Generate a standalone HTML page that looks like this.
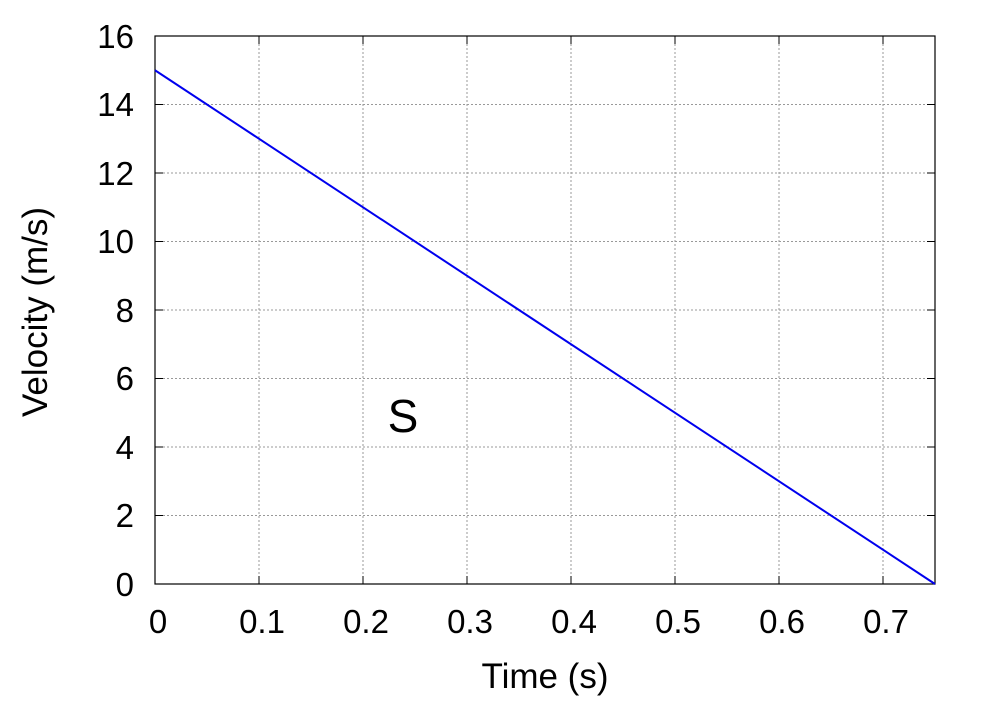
<!DOCTYPE html>
<html><head><style>body{margin:0;background:#fff}</style></head><body>
<svg width="1000" height="700" xmlns="http://www.w3.org/2000/svg" font-family="Liberation Sans, sans-serif">
<rect width="1000" height="700" fill="#fff"/>
<g stroke="#999" stroke-width="1" stroke-dasharray="2,2">
<line x1="259" y1="36" x2="259" y2="584"/><line x1="363" y1="36" x2="363" y2="584"/>
<line x1="467" y1="36" x2="467" y2="584"/><line x1="571" y1="36" x2="571" y2="584"/>
<line x1="675" y1="36" x2="675" y2="584"/><line x1="779" y1="36" x2="779" y2="584"/>
<line x1="883" y1="36" x2="883" y2="584"/>
<line x1="155" y1="515.5" x2="935" y2="515.5"/><line x1="155" y1="447" x2="935" y2="447"/>
<line x1="155" y1="378.5" x2="935" y2="378.5"/><line x1="155" y1="310" x2="935" y2="310"/>
<line x1="155" y1="241.5" x2="935" y2="241.5"/><line x1="155" y1="173" x2="935" y2="173"/>
<line x1="155" y1="104.5" x2="935" y2="104.5"/>
</g>
<g stroke="#000" stroke-width="1">
<line x1="259" y1="584" x2="259" y2="576"/><line x1="363" y1="584" x2="363" y2="576"/>
<line x1="467" y1="584" x2="467" y2="576"/><line x1="571" y1="584" x2="571" y2="576"/>
<line x1="675" y1="584" x2="675" y2="576"/><line x1="779" y1="584" x2="779" y2="576"/>
<line x1="883" y1="584" x2="883" y2="576"/>
<line x1="259" y1="36" x2="259" y2="44"/><line x1="363" y1="36" x2="363" y2="44"/>
<line x1="467" y1="36" x2="467" y2="44"/><line x1="571" y1="36" x2="571" y2="44"/>
<line x1="675" y1="36" x2="675" y2="44"/><line x1="779" y1="36" x2="779" y2="44"/>
<line x1="883" y1="36" x2="883" y2="44"/>
<line x1="155" y1="515.5" x2="163" y2="515.5"/><line x1="155" y1="447" x2="163" y2="447"/>
<line x1="155" y1="378.5" x2="163" y2="378.5"/><line x1="155" y1="310" x2="163" y2="310"/>
<line x1="155" y1="241.5" x2="163" y2="241.5"/><line x1="155" y1="173" x2="163" y2="173"/>
<line x1="155" y1="104.5" x2="163" y2="104.5"/>
<line x1="935" y1="515.5" x2="927" y2="515.5"/><line x1="935" y1="447" x2="927" y2="447"/>
<line x1="935" y1="378.5" x2="927" y2="378.5"/><line x1="935" y1="310" x2="927" y2="310"/>
<line x1="935" y1="241.5" x2="927" y2="241.5"/><line x1="935" y1="173" x2="927" y2="173"/>
<line x1="935" y1="104.5" x2="927" y2="104.5"/>
</g>
<rect x="155" y="36" width="780" height="548" fill="none" stroke="#000" stroke-width="1.2"/>
<line x1="155" y1="70.25" x2="935" y2="584" stroke="#0000ee" stroke-width="2"/>
<g font-size="33" text-anchor="end">
<text x="134" y="596">0</text><text x="134" y="527">2</text><text x="134" y="459">4</text>
<text x="134" y="390">6</text><text x="134" y="322">8</text><text x="134" y="253">10</text>
<text x="134" y="185">12</text><text x="134" y="116">14</text><text x="134" y="48">16</text>
</g>
<g font-size="33" text-anchor="middle">
<text x="158" y="633">0</text><text x="262" y="633">0.1</text><text x="366" y="633">0.2</text>
<text x="470" y="633">0.3</text><text x="574" y="633">0.4</text><text x="678" y="633">0.5</text>
<text x="782" y="633">0.6</text><text x="886" y="633">0.7</text>
<text x="545" y="688" font-size="35">Time (s)</text>
<text transform="translate(47,312) rotate(-90)" font-size="35">Velocity (m/s)</text>
</g>
<text x="403" y="432" font-size="46" text-anchor="middle">S</text>
</svg>
</body></html>
